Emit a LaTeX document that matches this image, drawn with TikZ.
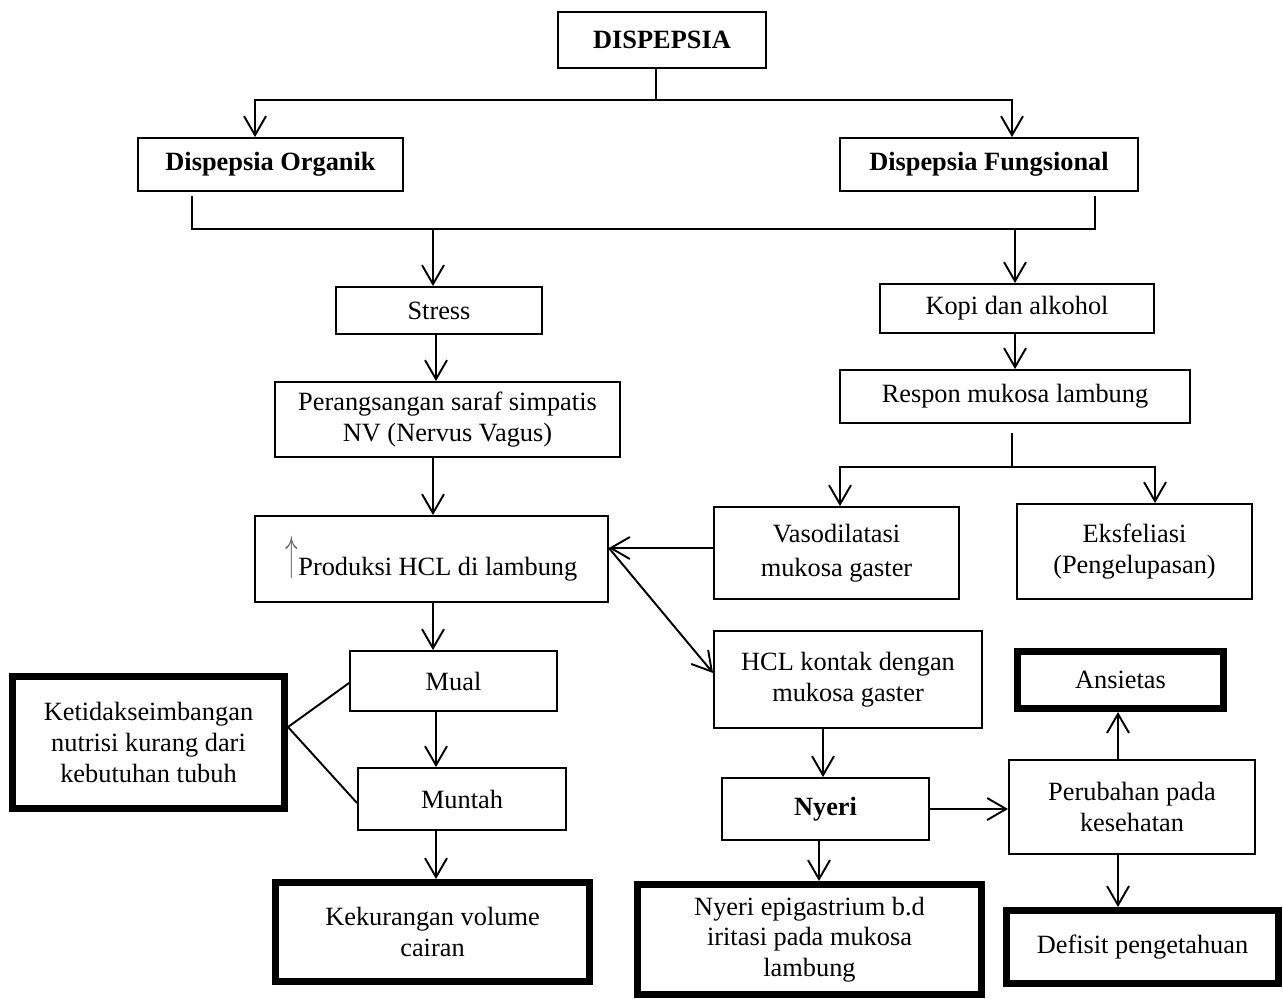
\documentclass[tikz,border=0pt]{standalone}
\usepackage{fontspec}
\setmainfont{Liberation Serif}
\usetikzlibrary{arrows.meta}

\begin{document}
\begin{tikzpicture}[
  x=0.02cm, y=-0.02cm,
  box/.style={draw, line width=1.1pt, align=center, inner sep=2pt,
    font=\fontsize{15}{17.5}\selectfont},
  heavy/.style={box, line width=4pt},
  arr/.style={line width=1.1pt, -{Straight Barb[length=3.8mm,width=4.4mm,line width=1.1pt]}},
  link/.style={line width=1.1pt}
]
  \useasboundingbox (0,0) rectangle (1283,998);

  % Top levels
  \node[box, minimum width=4.16cm, minimum height=1.12cm]
    (top) at (662,40) {\textbf{DISPEPSIA}};
  \node[box, minimum width=5.30cm, minimum height=1.06cm]
    (organik) at (270.5,164.5) {\textbf{Dispepsia Organik}};
  \node[box, minimum width=5.96cm, minimum height=1.06cm]
    (fungsi) at (989,164.5) {\textbf{Dispepsia Fungsional}};

  % Left branch
  \node[box, minimum width=4.12cm, minimum height=0.94cm]
    (stress) at (439,310.5) {Stress};
  \node[box, minimum width=6.90cm, minimum height=1.50cm]
    (saraf) at (447.5,419.5) {Perangsangan saraf simpatis\\NV (Nervus Vagus)};
  \node[box, minimum width=7.06cm, minimum height=1.72cm]
    (hcl) at (431.5,559)
    {\textcolor{black!60}{\raisebox{0.5ex}{\scalebox{1}[1.9]{$\uparrow$}}}Produksi HCL di lambung};
  \node[box, minimum width=4.14cm, minimum height=1.20cm]
    (mual) at (453.5,681) {Mual};
  \node[box, minimum width=4.16cm, minimum height=1.24cm]
    (muntah) at (462,799) {Muntah};
  \node[heavy, minimum width=5.44cm, minimum height=2.64cm]
    (ketidak) at (148.5,742.5) {Ketidakseimbangan\\nutrisi kurang dari\\kebutuhan tubuh};
  \node[heavy, minimum width=6.28cm, minimum height=1.98cm]
    (kurang) at (432.5,932) {Kekurangan volume\\cairan};

  % Right branch
  \node[box, minimum width=5.48cm, minimum height=0.98cm]
    (kopi) at (1017,308.5) {Kopi dan alkohol};
  \node[box, minimum width=7.00cm, minimum height=1.06cm]
    (respon) at (1015,396.5) {Respon mukosa lambung};
  \node[box, minimum width=4.90cm, minimum height=1.84cm]
    (vaso) at (836.5,553) {Vasodilatasi\\[2pt]mukosa gaster};
  \node[box, minimum width=4.70cm, minimum height=1.90cm]
    (eksf) at (1134.5,551.5) {Eksfeliasi\\(Pengelupasan)};
  \node[box, minimum width=5.36cm, minimum height=1.94cm]
    (kontak) at (848,679.5) {HCL kontak dengan\\mukosa gaster};
  \node[box, minimum width=4.14cm, minimum height=1.24cm]
    (nyeri) at (825.5,809) {\textbf{Nyeri}};
  \node[box, minimum width=4.92cm, minimum height=1.88cm]
    (ubah) at (1132,807) {Perubahan pada\\kesehatan};
  \node[heavy, minimum width=4.12cm, minimum height=1.14cm]
    (ansietas) at (1120.5,680) {Ansietas};
  \node[heavy, minimum width=6.88cm, minimum height=2.20cm]
    (epig) at (809.5,939.5) {Nyeri epigastrium b.d\\iritasi pada mukosa\\lambung};
  \node[heavy, minimum width=5.44cm, minimum height=1.46cm]
    (defisit) at (1142.5,947) {Defisit pengetahuan};

  % Split points
  \coordinate (sp1) at (656,100);
  \coordinate (jl) at (192,229);
  \coordinate (jr) at (1095,229);
  \coordinate (j1) at (433,229);
  \coordinate (j2) at (1015,229);
  \coordinate (sp2) at (1012,467);

  % Connectors
  \draw[link] (top.south -| sp1) -- (sp1);
  \draw[arr] (sp1) -| (organik.north -| 255,0);
  \draw[arr] (sp1) -| (fungsi.north -| 1012,0);
  \draw[link] (organik.south -| jl) ++(0,4) -- (jl) -- (jr) -- ([yshift=-4*0.02cm]fungsi.south -| jr);
  \draw[arr] (j1) -- (stress.north -| j1);
  \draw[arr] (j2) -- (kopi.north -| j2);

  \draw[arr] (stress.south -| 436,0) -- (saraf.north -| 436,0);
  \draw[arr] (saraf.south -| 433,0) -- (hcl.north -| 433,0);
  \draw[arr] (hcl.south -| 433,0) -- (mual.north -| 433,0);
  \draw[arr] (mual.south -| 436,0) -- (muntah.north -| 436,0);
  \draw[arr] (muntah.south -| 436,0) -- (kurang.north -| 436,0);
  \draw[link] (ketidak.east |- 0,727) -- (mual.west |- 0,683);
  \draw[link] (ketidak.east |- 0,727) -- (muntah.west |- 0,803);

  \draw[arr] (kopi.south -| 1015,0) -- (respon.north -| 1015,0);
  \draw[link] ([yshift=-9*0.02cm]respon.south -| sp2) -- (sp2);
  \draw[arr] (sp2) -| (vaso.north -| 840,0);
  \draw[arr] (sp2) -| (eksf.north -| 1155,0);
  \draw[arr] (vaso.west |- 0,548) -- (hcl.east |- 0,548);
  \draw[arr] (hcl.east |- 0,548) -- (kontak.west |- 0,673);
  \draw[arr] (kontak.south -| 823,0) -- (nyeri.north -| 823,0);
  \draw[arr] (nyeri.south -| 819,0) -- (epig.north -| 819,0);
  \draw[arr] (nyeri.east) -- (ubah.west |- nyeri.east);
  \draw[arr] (ubah.north -| 1118,0) -- (ansietas.south -| 1118,0);
  \draw[arr] (ubah.south -| 1118,0) -- (defisit.north -| 1118,0);
\end{tikzpicture}
\end{document}
